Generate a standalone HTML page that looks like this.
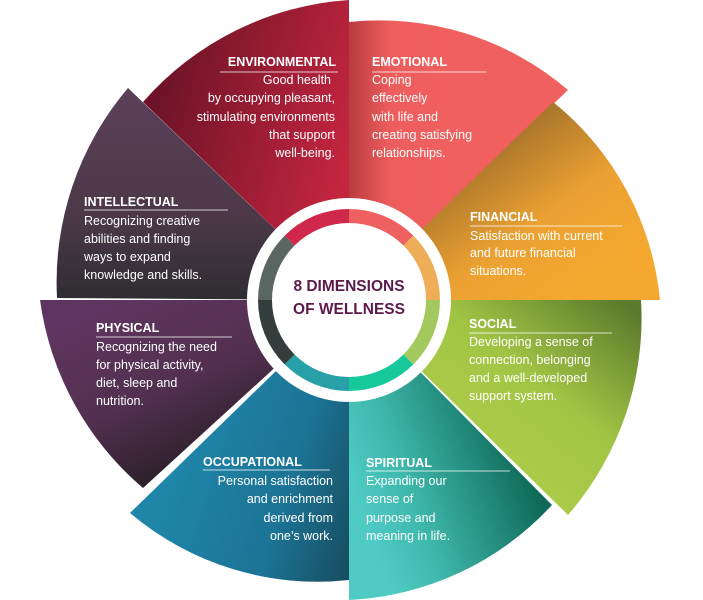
<!DOCTYPE html>
<html><head><meta charset="utf-8"><style>
html,body{margin:0;padding:0;background:#fff;width:703px;height:600px;overflow:hidden}
svg{display:block}
text{font-family:"Liberation Sans",sans-serif;fill:#fff;font-size:12.5px}
.t{font-weight:bold;font-size:12.5px}
.c{fill:#5c1a4a;font-weight:bold;font-size:15.5px}
</style></head><body>
<svg width="703" height="600" viewBox="0 0 703 600">
<defs>
<linearGradient id="gEnv" gradientUnits="userSpaceOnUse" x1="160" y1="100" x2="349" y2="150"><stop offset="0" stop-color="#6f1428"/><stop offset="1" stop-color="#c4253f"/></linearGradient>
<linearGradient id="gEmo" gradientUnits="userSpaceOnUse" x1="349" y1="150" x2="450" y2="150"><stop offset="0" stop-color="#b83c40"/><stop offset="0.4" stop-color="#ee5d5d"/><stop offset="1" stop-color="#f0605e"/></linearGradient>
<linearGradient id="gFin" gradientUnits="userSpaceOnUse" x1="480" y1="110" x2="600" y2="280"><stop offset="0" stop-color="#8e6328"/><stop offset="0.6" stop-color="#eba132"/><stop offset="1" stop-color="#f4a82f"/></linearGradient>
<linearGradient id="gSoc" gradientUnits="userSpaceOnUse" x1="620" y1="300" x2="500" y2="450"><stop offset="0" stop-color="#5c7a2c"/><stop offset="0.6" stop-color="#a2c444"/><stop offset="1" stop-color="#aacb48"/></linearGradient>
<linearGradient id="gSpi" gradientUnits="userSpaceOnUse" x1="540" y1="500" x2="380" y2="560"><stop offset="0" stop-color="#0f6a58"/><stop offset="0.7" stop-color="#3eb8ac"/><stop offset="1" stop-color="#4fcbc4"/></linearGradient>
<linearGradient id="gOcc" gradientUnits="userSpaceOnUse" x1="160" y1="500" x2="349" y2="560"><stop offset="0" stop-color="#1f86aa"/><stop offset="0.6" stop-color="#1c7395"/><stop offset="1" stop-color="#174f62"/></linearGradient>
<linearGradient id="gPhy" gradientUnits="userSpaceOnUse" x1="100" y1="310" x2="180" y2="490"><stop offset="0" stop-color="#5e3560"/><stop offset="0.5" stop-color="#52304f"/><stop offset="1" stop-color="#241d24"/></linearGradient>
<linearGradient id="gInt" gradientUnits="userSpaceOnUse" x1="130" y1="100" x2="130" y2="300"><stop offset="0" stop-color="#5b3f57"/><stop offset="0.6" stop-color="#4b3848"/><stop offset="1" stop-color="#2e2d30"/></linearGradient>
</defs>
<path d="M349,300 L143,102 A300,300 0 0 1 349,0 Z" fill="url(#gEnv)"/>
<path d="M349,300 L349,22 A290,290 0 0 1 568,90 Z" fill="url(#gEmo)"/>
<path d="M349,300 L553,102 A290,290 0 0 1 660,300 Z" fill="url(#gFin)"/>
<path d="M349,300 L641,300 A300,300 0 0 1 568,515 Z" fill="url(#gSoc)"/>
<path d="M349,300 L552,505 A295,295 0 0 1 349,600 Z" fill="url(#gSpi)"/>
<path d="M349,300 L349,580 A290,290 0 0 1 130,513 Z" fill="url(#gOcc)"/>
<path d="M349,300 L143,488 A300,300 0 0 1 40,300 Z" fill="url(#gPhy)"/>
<path d="M349,300 L57,298 A300,300 0 0 1 128,88 Z" fill="url(#gInt)"/>
<circle cx="349" cy="300" r="102" fill="#fff"/>
<g fill="none" stroke-width="14">
<path d="M349,216 A84,84 0 0 1 408.4,240.6" stroke="#ef6060"/>
<path d="M408.4,240.6 A84,84 0 0 1 433,300" stroke="#eeae58"/>
<path d="M433,300 A84,84 0 0 1 408.4,359.4" stroke="#a3c95e"/>
<path d="M408.4,359.4 A84,84 0 0 1 349,384" stroke="#17c89a"/>
<path d="M349,384 A84,84 0 0 1 289.6,359.4" stroke="#27a0a8"/>
<path d="M289.6,359.4 A84,84 0 0 1 265,300" stroke="#333d3b"/>
<path d="M265,300 A84,84 0 0 1 289.6,240.6" stroke="#5a6661"/>
<path d="M289.6,240.6 A84,84 0 0 1 349,216" stroke="#d0284a"/>
</g>
<text class="c" x="349" y="291" text-anchor="middle">8 DIMENSIONS</text>
<text class="c" x="349" y="314" text-anchor="middle">OF WELLNESS</text>
<g stroke="#fff" stroke-opacity="0.6" stroke-width="1.2">
<line x1="220" y1="72" x2="338" y2="72"/>
<line x1="372" y1="72" x2="486" y2="72"/>
<line x1="470" y1="226" x2="622" y2="226"/>
<line x1="469" y1="333" x2="612" y2="333"/>
<line x1="366" y1="471" x2="510" y2="471"/>
<line x1="203" y1="470" x2="330" y2="470"/>
<line x1="96" y1="337" x2="232" y2="337"/>
<line x1="84" y1="210" x2="228" y2="210"/>
</g>
<g text-anchor="end">
<text class="t" x="336" y="66">ENVIRONMENTAL</text>
<text x="331" y="84">Good health</text>
<text x="335" y="102">by occupying pleasant,</text>
<text x="335" y="121">stimulating environments</text>
<text x="335" y="139">that support</text>
<text x="335" y="157">well-being.</text>
<text x="333" y="485">Personal satisfaction</text>
<text x="333" y="503">and enrichment</text>
<text x="333" y="522">derived from</text>
<text x="333" y="540">one’s work.</text>
</g>
<text class="t" x="372" y="66">EMOTIONAL</text>
<text x="372" y="84">Coping</text>
<text x="372" y="102">effectively</text>
<text x="372" y="121">with life and</text>
<text x="372" y="139">creating satisfying</text>
<text x="372" y="157">relationships.</text>
<text class="t" x="470" y="221">FINANCIAL</text>
<text x="470" y="240">Satisfaction with current</text>
<text x="470" y="257">and future financial</text>
<text x="470" y="275">situations.</text>
<text class="t" x="469" y="328">SOCIAL</text>
<text x="469" y="346">Developing a sense of</text>
<text x="469" y="364">connection, belonging</text>
<text x="469" y="382">and a well-developed</text>
<text x="469" y="400">support system.</text>
<text class="t" x="366" y="467">SPIRITUAL</text>
<text x="366" y="485">Expanding our</text>
<text x="366" y="503">sense of</text>
<text x="366" y="522">purpose and</text>
<text x="366" y="540">meaning in life.</text>
<text class="t" x="203" y="466">OCCUPATIONAL</text>
<text class="t" x="96" y="332">PHYSICAL</text>
<text x="96" y="351">Recognizing the need</text>
<text x="96" y="369">for physical activity,</text>
<text x="96" y="387">diet, sleep and</text>
<text x="96" y="405">nutrition.</text>
<text class="t" x="84" y="206">INTELLECTUAL</text>
<text x="84" y="225">Recognizing creative</text>
<text x="84" y="243">abilities and finding</text>
<text x="84" y="261">ways to expand</text>
<text x="84" y="279">knowledge and skills.</text>
</svg>
</body></html>
